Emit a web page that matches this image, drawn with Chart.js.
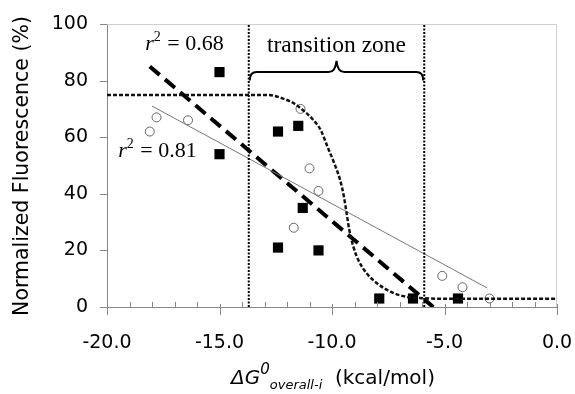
<!DOCTYPE html>
<html>
<head>
<meta charset="utf-8">
<script src="https://cdn.jsdelivr.net/npm/chart.js@4.4.1/dist/chart.umd.min.js"></script>
<style>
  body { margin: 0; background: #fff; }
  canvas { display: block; }
</style>
</head>
<body>
<canvas id="chart" width="575" height="394"></canvas>
<script>
// data
const squareX = [-15.0, -15.0, -12.4, -11.5, -12.4, -11.3, -10.6, -7.9, -6.4, -4.4];
const squareY = [83, 54, 62, 64, 21, 35, 20, 3, 3, 3];
const circleX = [-18.1, -17.8, -16.4, -11.4, -11.0, -10.6, -11.7, -5.1, -4.2, -3.0];
const circleY = [62, 67, 66, 70, 49, 41, 28, 11, 7, 3];

// regression lines (end points)
const fitSquareX = [-18.1, -5.5];
const fitSquareY = [85, 0];
const fitCircleX = [-18.0, -3.1];
const fitCircleY = [71, 6.7];

// sigmoid curve, points
const sigmoidX = [-20, -13.6, -12.8, -12.2, -11.7, -11.3, -10.9, -10.5, -10.2, -9.9, -9.64, -9.47, -9.35, -9.23, -9.05, -8.83, -8.46, -8.0, -7.4, -6.7, -5.9, -5.0, 0];
const sigmoidY = [74.9, 74.9, 74.9, 73.7, 72, 69.6, 66.7, 62.5, 56.6, 50.8, 44.9, 39, 33.1, 27.2, 21.3, 16.6, 11.9, 8.4, 5.4, 3.6, 3.1, 2.9, 2.9];

// transition zone bounds
const zoneX = [-13.7, -5.9];
const zoneY = [0, 100];
const braceEndY = 80, braceLineY = 83, braceTipY = 87;

const xTicks = [-20, -15, -10, -5, 0];
const yTicks = [0, 20, 40, 60, 80, 100];

const pts = (xs, ys) => xs.map((x, i) => ({x: x, y: ys[i]}));

const overlay = {
  id: 'overlay',
  beforeDatasetsDraw(chart) {
    const {ctx, chartArea: a} = chart;
    ctx.save();
    ctx.strokeStyle = '#cfcfcf';
    ctx.lineWidth = 1;
    ctx.beginPath();
    ctx.moveTo(a.left, a.top + 0.5);
    ctx.lineTo(a.right - 0.5, a.top + 0.5);
    ctx.lineTo(a.right - 0.5, a.bottom);
    ctx.stroke();
    ctx.restore();
  },
  afterDatasetsDraw(chart) {
    const {ctx, chartArea: a, scales: {x, y}} = chart;
    ctx.save();
    // tick marks
    ctx.strokeStyle = '#888';
    ctx.lineWidth = 1;
    ctx.beginPath();
    yTicks.forEach(v => {
      const py = Math.round(y.getPixelForValue(v)) + 0.5;
      ctx.moveTo(a.left - 7, py);
      ctx.lineTo(a.left, py);
    });
    for (let v = -20; v <= 0; v++) {
      const px = Math.round(x.getPixelForValue(v)) + 0.5;
      if (v % 5 === 0) {
        ctx.moveTo(px, a.bottom - 3);
        ctx.lineTo(px, a.bottom + 8);
      } else {
        ctx.moveTo(px, a.bottom - 5);
        ctx.lineTo(px, a.bottom);
      }
    }
    ctx.stroke();

    // brace over the transition zone
    const L = x.getPixelForValue(zoneX[0]);
    const R = x.getPixelForValue(zoneX[1]);
    const M = (L + R) / 2;
    const yE = y.getPixelForValue(braceEndY);
    const yL = y.getPixelForValue(braceLineY);
    const yT = y.getPixelForValue(braceTipY);
    const r = 8;
    ctx.strokeStyle = '#000';
    ctx.lineWidth = 2;
    ctx.beginPath();
    ctx.moveTo(L + 1, yE);
    ctx.quadraticCurveTo(L + 1, yL, L + r, yL);
    ctx.lineTo(M - r, yL);
    ctx.quadraticCurveTo(M - 1, yL, M, yT);
    ctx.quadraticCurveTo(M + 1, yL, M + r, yL);
    ctx.lineTo(R - r, yL);
    ctx.quadraticCurveTo(R - 1, yL, R - 1, yE);
    ctx.stroke();

    ctx.fillStyle = '#000';
    ctx.font = '23.5px "Liberation Serif"';
    ctx.textAlign = 'center';
    ctx.textBaseline = 'alphabetic';
    ctx.fillText('transition zone', M, y.getPixelForValue(90.2));

    // r^2 labels
    const rsq = (vx, vy, txt) => {
      let px = x.getPixelForValue(vx);
      const py = y.getPixelForValue(vy);
      ctx.textAlign = 'left';
      ctx.font = 'italic 22px "Liberation Serif"';
      ctx.fillText('r', px, py);
      px += ctx.measureText('r').width;
      ctx.font = '14px "Liberation Serif"';
      ctx.fillText('2', px, py - 9);
      px += ctx.measureText('2').width + 1;
      ctx.font = '22px "Liberation Serif"';
      ctx.fillText(' = ' + txt, px, py);
    };
    rsq(-18.3, 90.8, '0.68');
    rsq(-19.5, 53, '0.81');
    ctx.restore();
  },
  afterDraw(chart) {
    const {ctx} = chart;
    ctx.save();
    ctx.fillStyle = '#000';
    // y axis title
    ctx.font = '20.5px "DejaVu Sans"';
    ctx.translate(28, 166);
    ctx.rotate(-Math.PI / 2);
    ctx.textAlign = 'center';
    ctx.textBaseline = 'alphabetic';
    ctx.fillText('Normalized Fluorescence (%)', 0, 0);
    ctx.restore();

    // x axis title with super/subscripts
    ctx.save();
    ctx.fillStyle = '#000';
    ctx.textAlign = 'left';
    ctx.textBaseline = 'alphabetic';
    const parts = [
      {t: 'ΔG', f: 'italic 20px "DejaVu Sans"', dy: 0},
      {t: '0', f: 'italic 15px "DejaVu Sans"', dy: -10},
      {t: 'overall-i', f: 'italic 13px "DejaVu Sans"', dy: 5},
      {t: '  (kcal/mol)', f: '20px "DejaVu Sans"', dy: 0}
    ];
    let total = 0;
    parts.forEach(p => { ctx.font = p.f; p.w = ctx.measureText(p.t).width; total += p.w; });
    let px = 333 - total / 2;
    const base = 384;
    parts.forEach(p => {
      ctx.font = p.f;
      ctx.fillText(p.t, px, base + p.dy);
      px += p.w;
    });
    ctx.restore();
  }
};

Chart.defaults.font.family = '"DejaVu Sans"';
Chart.defaults.font.size = 19;
Chart.defaults.color = '#000';

new Chart(document.getElementById('chart'), {
  type: 'scatter',
  data: {
    datasets: [
      {
        label: 'zone left',
        data: pts([zoneX[0], zoneX[0]], zoneY),
        showLine: true, borderColor: '#000', borderWidth: 2, borderDash: [2, 1.5],
        pointRadius: 0
      },
      {
        label: 'zone right',
        data: pts([zoneX[1], zoneX[1]], zoneY),
        showLine: true, borderColor: '#000', borderWidth: 2, borderDash: [2, 1.5],
        pointRadius: 0
      },
      {
        label: 'sigmoid',
        data: pts(sigmoidX, sigmoidY),
        showLine: true, borderColor: '#111', borderWidth: 2.5, borderDash: [4, 2],
        cubicInterpolationMode: 'monotone', pointRadius: 0
      },
      {
        label: 'fit circles',
        data: pts(fitCircleX, fitCircleY),
        showLine: true, borderColor: '#777', borderWidth: 1, pointRadius: 0
      },
      {
        label: 'fit squares',
        data: pts(fitSquareX, fitSquareY),
        showLine: true, borderColor: '#000', borderWidth: 4, borderDash: [13, 7],
        pointRadius: 0
      },
      {
        label: 'circles',
        data: pts(circleX, circleY),
        pointStyle: 'circle', pointRadius: 4.5,
        backgroundColor: '#fff', borderColor: '#666', borderWidth: 1
      },
      {
        label: 'squares',
        data: pts(squareX, squareY),
        pointStyle: 'rect', pointRadius: 7.2,
        backgroundColor: '#000', borderColor: '#000', borderWidth: 0
      }
    ]
  },
  options: {
    responsive: false,
    animation: false,
    layout: {padding: {top: 24, right: 18, left: 0, bottom: 0}},
    plugins: {legend: {display: false}, tooltip: {enabled: false}},
    scales: {
      x: {
        type: 'linear', min: -20, max: 0,
        afterBuildTicks: s => { s.ticks = xTicks.map(v => ({value: v})); },
        afterFit: s => { s.height = 87; s.paddingLeft = 0; s.paddingRight = 0; },
        grid: {display: false, drawTicks: false},
        border: {display: true, color: '#888', width: 1},
        ticks: {padding: 25, maxRotation: 0, callback: v => v.toFixed(1)}
      },
      y: {
        type: 'linear', min: 0, max: 100,
        afterBuildTicks: s => { s.ticks = yTicks.map(v => ({value: v})); },
        afterFit: s => { s.width = 107; s.paddingTop = 0; s.paddingBottom = 0; },
        grid: {display: false, drawTicks: false},
        border: {display: true, color: '#888', width: 1},
        ticks: {padding: 19}
      }
    }
  },
  plugins: [overlay]
});
</script>
</body>
</html>
